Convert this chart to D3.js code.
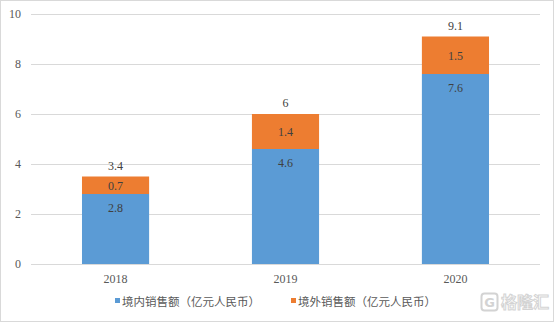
<!DOCTYPE html>
<html><head><meta charset="utf-8">
<script src="https://cdn.jsdelivr.net/npm/d3@7"></script>
<style>body{margin:0;background:#fff}svg{display:block}</style>
</head><body>
<script>
const categories = ["2018", "2019", "2020"];
const domestic = [2.8, 4.6, 7.6];
const overseas = [0.7, 1.4, 1.5];
const totals = [3.4, 6, 9.1];
const yTicks = [0, 2, 4, 6, 8, 10];
const seriesNames = ["境内销售额（亿元人民币）", "境外销售额（亿元人民币）"];
const colors = ["#5B9BD5", "#ED7D31"];

const W = 554, H = 323;
const svg = d3.select("body").append("svg").attr("width", W).attr("height", H);
svg.append("rect").attr("x", 0.5).attr("y", 0.5).attr("width", W - 1).attr("height", H - 2)
  .attr("fill", "#fff").attr("stroke", "#d9d9d9");

const x = d3.scaleBand().domain(categories).range([31, 540]).paddingInner(0.605).paddingOuter(0.3);
const y = d3.scaleLinear().domain([0, 10]).range([264, 14]);

const serif = "'Liberation Serif','Times New Roman',serif";
// gridlines
svg.append("g").selectAll("line").data(yTicks).join("line")
  .attr("x1", 31).attr("x2", 540).attr("y1", d => y(d) + 0.5).attr("y2", d => y(d) + 0.5)
  .attr("stroke", "#d9d9d9").attr("stroke-width", 1);

// y axis labels
const yAxis = d3.axisLeft(y).tickValues(yTicks).tickSize(0).tickPadding(0);
const ya = svg.append("g").attr("transform", "translate(21,0)").call(yAxis);
ya.select(".domain").remove();
ya.selectAll("text").attr("font-family", serif).attr("font-size", 12).attr("fill", "#595959");

// x axis labels
const xAxis = d3.axisBottom(x).tickSize(0).tickPadding(0);
const xa = svg.append("g").attr("transform", "translate(0,274)").call(xAxis);
xa.select(".domain").remove();
xa.selectAll("text").attr("font-family", serif).attr("font-size", 12).attr("fill", "#595959");

const data = categories.map((c, i) => ({c, d: domestic[i], o: overseas[i], t: totals[i]}));
const bw = x.bandwidth();

svg.append("g").selectAll("rect").data(data).join("rect")
  .attr("x", d => x(d.c)).attr("width", bw)
  .attr("y", d => y(d.d)).attr("height", d => y(0) - y(d.d)).attr("fill", colors[0]);
svg.append("g").selectAll("rect").data(data).join("rect")
  .attr("x", d => x(d.c)).attr("width", bw)
  .attr("y", d => y(d.d + d.o)).attr("height", d => y(d.d) - y(d.d + d.o)).attr("fill", colors[1]);

const lab = (sel) => sel.attr("font-family", serif).attr("font-size", 12).attr("fill", "#404040").attr("text-anchor", "middle");
svg.append("g").selectAll("text").data(data).join("text").call(lab)
  .attr("x", d => x(d.c) + bw / 2).attr("y", d => y(d.d) + 18).text(d => d.d);
svg.append("g").selectAll("text").data(data).join("text").call(lab)
  .attr("x", d => x(d.c) + bw / 2).attr("y", d => (y(d.d) + y(d.d + d.o)) / 2 + 4.5).text(d => d.o);
svg.append("g").selectAll("text").data(data).join("text").call(lab)
  .attr("x", d => x(d.c) + bw / 2).attr("y", d => y(d.d + d.o) - 7).text(d => d.t);

// legend
const cjk = "'Noto Sans CJK SC','Noto Sans',sans-serif";
const legX = [115, 291];
const lg = svg.append("g").selectAll("g").data(seriesNames).join("g")
  .attr("transform", (d, i) => `translate(${legX[i]},298)`);
lg.append("rect").attr("width", 5).attr("height", 5).attr("y", 0).attr("fill", (d, i) => colors[i]);
lg.append("text").attr("x", 7).attr("y", 7.5).attr("font-family", cjk).attr("font-size", 11.5)
  .attr("fill", "#595959").text(d => d);

// watermark
const wm = svg.append("g").attr("transform", "translate(481,293)").attr("opacity", 0.55);
wm.append("rect").attr("x", 0.5).attr("y", 0.5).attr("width", 16).attr("height", 17).attr("rx", 3)
  .attr("fill", "none").attr("stroke", "#b0b0b0").attr("stroke-width", 2);
wm.append("text").attr("x", 8.5).attr("y", 14).attr("text-anchor", "middle").attr("font-family", "'DejaVu Sans',sans-serif")
  .attr("font-weight", "bold").attr("font-size", 13).attr("fill", "#b0b0b0").text("G");
wm.append("text").attr("x", 20).attr("y", 15).attr("font-family", cjk).attr("font-weight", "bold")
  .attr("font-size", 16).attr("fill", "#fff").attr("stroke", "#b0b0b0").attr("stroke-width", 1).text("格隆汇");
</script>
</body></html>
